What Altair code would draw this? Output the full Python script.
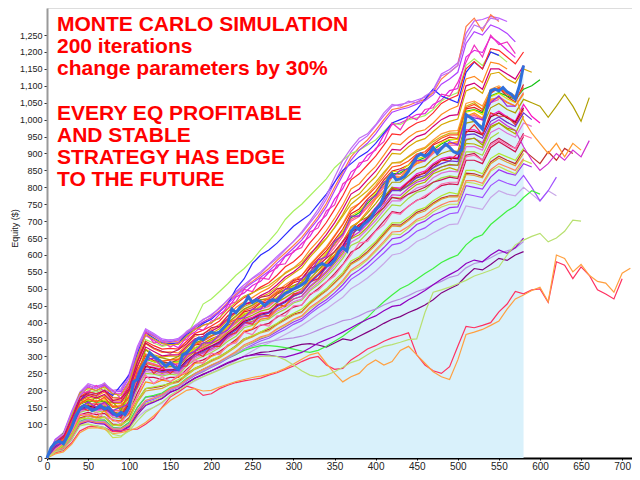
import altair as alt
import pandas as pd

# ---------------- data ----------------
STEP = 10          # sample spacing of every simulated equity curve (trade #)
MAIN_STEP = 5      # sample spacing of the original (blue) equity curve

MAIN = [0, 30, 45, 50, 42, 65, 90, 125, 145, 155,
        150, 140, 145, 155, 145, 150, 135, 125, 135, 128,
        150, 225, 232, 265, 286, 311, 300, 292, 282, 271,
        281, 268, 262, 305, 311, 325, 345, 355, 350, 365,
        372, 368, 372, 385, 398, 440, 430, 445, 455, 477,
        460, 468, 462, 450, 462, 468, 463, 475, 487, 492,
        500, 505, 512, 520, 546, 552, 568, 575, 568, 572,
        585, 610, 622, 612, 670, 683, 675, 690, 700, 712,
        735, 745, 775, 825, 840, 822, 825, 832, 848, 870,
        890, 899, 892, 900, 918, 900, 915, 928, 918, 905,
        900, 912, 1015, 1007, 998, 985, 972, 1030, 1085, 1090,
        1085, 1095, 1082, 1075, 1061, 1100, 1160]

L01 = [0,48,66,128,182,210,198,214,188,190,228,305,362,348,332,338,326,358,372,394,398,425,442,476,488,510,522,548,562,596,608,634,655,694,718,765,796,845,862,895,910,955,985,990,1002,1015,1018,1045,1058,1086,1092,1185,1205,1198,1245,1228,1205,1184]
L02 = [0,38,52,98,162,168,170,165,152,146,184,246,302,288,284,280,292,306,334,338,352,362,392,405,432,438,458,462,484,498,518,526,562,588,612,644,676,722,736,765,788,822,848,855,866,894,898,925,936,948,944,1032,1036,1024,1078,1094,1068,1052,1104]
L03 = [0,30,45,88,140,150,142,150,128,122,150,215,262,258,250,256,248,280,300,312,322,338,358,372,398,404,418,420,440,452,470,478,505,525,548,575,605,648,660,682,712,740,770,768,790,808,815,840,850,858,850,930,928,918,975,990,972,958,1010]
L04 = [0,52,60,118,175,188,182,195,172,170,205,282,338,322,312,314,310,335,360,368,380,395,420,445,462,474,490,502,522,548,562,582,615,642,672,708,748,795,810,838,862,895,930,926,948,964,970,990,1015,1030,1040,1120,1128,1110,1170,1165,1150]
L05 = [0,28,38,80,128,135,128,132,112,110,135,192,238,238,232,238,238,262,282,290,302,315,332,350,372,380,392,398,416,430,446,452,482,500,520,545,572,608,622,646,672,700,728,724,744,762,770,790,805,810,808,880,880,870,918,935,920,905,950]
L06 = [0,20,30,62,108,118,112,112,90,88,104,150,180,182,190,206,212,232,248,262,272,284,298,312,330,340,352,360,374,388,402,412,432,452,468,488,512,540,556,575,598,622,648,652,668,690,700,718,728,740,742,805,800,795,830,852,842,836,870,860]
L07 = [0,55,75,138,195,220,212,220,200,204,250,330,382,368,352,348,354,372,392,408,424,442,468,492,512,532,550,572,596,618,640,664,695,725,765,815,862,905,935,952,982,1012,1040,1045,1050,1058,1066,1088,1135,1148,1168,1255,1292,1296,1305,1300,1290]
L08 = [0,40,48,95,150,162,158,158,140,138,170,238,285,278,270,272,278,300,318,328,340,352,378,398,418,428,440,448,468,482,498,510,540,565,592,622,655,700,714,740,768,800,832,830,848,870,878,900,918,925,925,1005,1012,998,1050,1060]
L09 = [0,46,58,110,168,180,175,184,162,160,195,268,322,305,298,302,300,325,348,356,368,382,408,428,448,458,475,486,505,528,545,562,594,620,648,682,720,765,780,808,832,866,900,898,920,936,944,965,985,995,1002,1085,1095,1078,1135,1140,1120,1108,1150,1140]
L10 = [0,35,44,90,145,155,150,150,132,130,160,225,272,268,262,262,262,290,308,322,332,345,368,385,408,416,428,432,452,465,484,494,522,545,570,598,630,672,688,712,740,770,800,798,818,840,848,870,885,890,888,970,970,958,1012,1025,1008,995,1045,1010,990]
L11 = [0,25,35,72,118,126,120,122,100,98,120,170,205,208,212,222,226,248,265,276,288,300,315,332,352,360,372,380,396,410,425,432,458,478,495,518,542,575,590,610,635,662,690,688,706,726,735,754,768,775,775,842,840,832,875,892,880,870,910,890,870,905,880,915,900]
L12 = [0,18,25,55,100,110,104,102,80,76,88,120,140,150,162,185,196,212,228,240,252,262,274,288,302,316,330,340,352,365,378,392,408,425,440,458,475,500,515,532,552,575,600,605,620,640,650,665,678,690,692,745,740,735,770,790,780,775,800,780,760,790,775]
L13 = [0,50,68,130,188,215,205,218,196,198,240,318,372,360,345,342,346,368,386,402,415,435,460,484,505,522,540,560,584,606,628,652,682,714,752,800,845,890,918,940,968,1000,1030,1035,1042,1052,1060,1080,1120,1140,1160,1275,1300,1262,1310,1290]
L14 = [0,30,42,84,135,142,135,140,120,116,142,205,250,248,242,248,244,272,290,300,312,326,345,360,385,392,405,410,428,440,458,466,494,512,535,560,590,628,640,665,692,720,748,745,768,785,792,815,828,834,830,905,905,895,946,962]
L15 = [0,20,28,58,104,112,106,108,84,80,96,135,160,168,176,195,204,222,236,248,258,268,280,290,300,306,312,314,318,322,330,336,338,334,328,340,352,348,360,372,384,398,410,418,430,440,452,468,488,500,512,538,560,556,572,590,584,600,610]
L16 = [0,42,74,105,158,170,164,168,150,145,178,245,292,285,278,282,285,305,325,335,348,360,385,402,425,432,448,455,472,490,508,518,548,575,602,632,665,710,725,752,778,810,840,842,858,878,888,910,928,940,942,1025,1030,1020,1070,1080,1070,1060,1090,1100,1118]
L17 = [0,36,46,92,148,158,152,154,136,132,165,232,280,274,268,270,270,296,315,326,338,350,372,390,412,422,434,440,460,474,490,500,530,555,580,610,640,684,698,724,752,784,815,815,835,855,862,885,900,908,906,990,995,980,1035,1048,1030,1020,1060,1050,1040,1007,1040,1075,1040,995,1065]
L18 = [0,34,42,85,138,148,142,145,126,122,152,215,262,258,252,256,254,282,300,310,322,336,356,372,396,402,416,420,440,452,470,478,508,528,552,580,612,652,668,692,720,748,778,776,798,815,822,845,860,866,865,942,945,932,985,1000,982,968,920,880,850,870,900,880,910,890,938]
L19 = [0,45,60,120,180,200,195,205,180,178,215,290,350,340,330,335,340,362,405,455,470,492,515,540,560,585,615,640,668,705,730,750,775,800,825,858,880,900,910,925,940,965,990,985,1000,1005,1012,1030,1055,1070,1080,1160,1180,1160,1200,1190,1170]
L20 = [0,40,55,110,170,195,190,200,185,215,245,310,370,355,340,338,340,365,380,398,410,432,455,500,530,575,600,615,635,660,685,703,720,750,780,815,850,870,890,905,930,960,990,1000,1010,1030,1060,1090,1070,1060,1050,1140,1170,1150,1200,1190]
L21 = [0,36,50,96,152,162,160,162,142,140,168,232,282,276,270,276,280,298,320,332,345,358,384,400,420,430,446,452,470,486,502,515,545,572,600,630,662,705,718,745,772,805,835,838,855,875,882,905,920,930,930,1010,1015,1002,1055,1068,1052,1040,1080]
L22 = [0,24,34,70,115,124,118,120,98,95,115,165,198,202,206,218,224,244,262,272,285,296,312,328,348,358,370,376,394,408,422,430,456,475,494,516,540,572,586,606,630,658,686,684,702,722,730,750,765,772,772,838,835,828,870,886,874,864,900]
L23 = [0,50,62,122,180,196,190,200,178,176,212,292,345,332,322,324,322,345,368,378,390,405,432,455,474,488,505,518,540,565,580,602,636,664,696,735,775,822,840,866,892,925,958,955,975,990,998,1020,1048,1062,1072,1150,1172,1150,1210,1205,1185,1165,1200]
L24 = [0,32,40,86,138,146,140,142,122,118,148,210,256,252,246,252,250,275,295,305,318,330,352,368,390,398,410,414,434,446,462,470,498,518,542,568,598,638,652,676,702,732,760,760,780,798,805,828,842,848,846,920,920,910,962,975,960,948,990,980]
L25 = [0,40,56,104,160,172,166,172,150,148,178,245,295,285,278,280,284,305,326,336,350,362,388,405,426,434,450,458,476,492,508,520,552,578,606,638,670,715,730,756,784,815,846,848,866,884,892,915,932,942,942,1022,1028,1015,1068,1078,1062,1050]
L26 = [0,22,30,60,100,100,92,88,60,62,85,125,160,168,180,200,210,228,245,255,268,280,296,312,330,342,355,362,380,392,408,418,440,458,476,498,520,552,566,586,610,635,662,660,680,700,708,728,742,750,750,815,812,805,848,862,850,840,880,870]
L27 = [0,54,72,132,190,214,206,216,196,196,238,320,376,362,348,344,350,368,388,402,414,432,456,480,500,518,534,552,576,598,620,644,676,706,742,790,836,880,910,930,958,992,1022,1030,1036,1046,1056,1074,1105,1120,1140,1225,1260,1250,1280,1270,1255,1230]
L28 = [0,34,44,90,144,154,148,150,130,126,158,222,270,266,258,260,262,288,306,318,330,342,365,382,404,412,425,430,450,462,480,490,518,542,566,594,625,668,682,708,735,766,796,794,815,835,842,865,880,886,884,965,965,955,1008,1020,1005,992,1035]
L29 = [0,20,28,60,104,112,108,106,86,82,98,138,166,174,184,200,210,228,244,256,268,280,294,306,322,334,346,354,368,380,395,406,426,444,460,480,500,528,544,562,584,606,630,635,650,670,680,698,710,722,725,780,775,770,805,822,812,805,835,800,760,790,830]
L30 = [0,22,32,64,108,116,110,112,90,88,106,150,180,185,192,208,216,236,250,262,274,284,296,306,318,326,332,332,330,326,322,316,312,318,330,345,360,378,395,415,440,462,482,500,512,528,545,560,578,590,600,630,650,660,690,710,730,745,770,790,780]
L31 = [0,44,56,105,164,175,168,176,156,152,186,255,308,296,288,290,294,316,338,348,360,375,398,418,440,450,466,474,494,512,528,540,572,598,625,658,692,738,752,780,806,840,872,872,892,910,918,940,958,966,968,1048,1055,1040,1090,1100,1085,1070,1000,960,930,900,930,890,930,910]
L32 = [0,20,30,62,106,114,108,108,88,84,100,142,170,176,186,202,210,230,246,258,270,282,296,308,322,330,338,344,348,352,355,360,368,378,388,396,406,410,420,432,440,452,462,470,480,492,500,512,522,534,540,562,575,580,592,605,612,620,640]
L33 = [0,18,26,56,100,108,102,100,80,78,92,128,155,165,176,194,204,220,236,246,258,270,282,292,300,304,306,304,300,298,305,312,325,340,350,360,372,385,398,410,420,435,448,452,468,480,495,512,528,542,555,575,585,580,600,615,605,622,650]
N01 = [0,44,70,112,190,196,214,196,200,176,222,290,372,340,346,328,342,350,384,378,405,412,452,462,498,492,532,528,570,574,612,622,668,680,730,748,810,828,872,880,915,935,990,970,1010,1000,1030,1035,1075,1070,1110,1170,1220,1185,1250,1222,1230,1195]
N02 = [0,30,50,90,150,140,160,140,140,118,170,210,280,250,268,250,270,272,312,300,330,330,362,370,402,395,425,420,455,448,485,488,520,530,565,585,620,650,690,700,730,755,795,790,815,830,845,858,880,878,900,960,985,955,1020,1010,1010,985,1030]
N03 = [0,40,62,100,172,160,180,165,165,140,200,240,320,300,296,290,300,318,340,350,362,372,400,420,440,452,468,470,488,498,510,520,548,556,580,600,640,672,700,712,735,770,800,790,805,820,830,850,860,868,865,940,945,925,980,990,975,968]
N04 = [0,26,40,76,125,130,120,140,110,110,130,180,225,220,230,226,240,252,280,282,300,310,330,345,375,382,410,414,440,452,478,490,525,545,575,600,640,680,700,730,765,790,830,830,855,870,880,905,915,930,935,1010,1020,1005,1060,1065,1050,1040,1075]
N05 = [0,46,66,118,180,190,185,200,170,175,205,285,340,325,315,310,320,338,365,365,385,390,420,430,455,460,475,480,500,505,525,530,560,570,590,610,640,670,690,700,720,740,770,765,780,790,800,815,822,830,826,895,900,880,930,945,930,915,960]
N06 = [0,38,46,100,150,165,150,165,140,150,160,250,290,295,270,285,270,305,315,340,340,365,378,410,415,440,440,468,470,500,500,530,548,585,595,640,660,715,715,760,775,815,830,850,855,880,878,910,912,935,925,1010,1005,1000,1050,1070,1040,1040]
N07 = [0,50,72,125,192,205,200,210,190,185,225,300,365,352,338,335,336,360,380,392,400,415,440,460,478,488,500,510,528,545,560,575,605,625,650,680,715,750,770,790,815,845,872,875,890,905,915,935,950,960,960,1040,1050,1030,1085,1095,1080,1065]
N08 = [0,25,45,78,130,125,135,120,115,100,140,180,245,220,240,225,245,255,290,280,310,305,335,340,372,365,395,390,420,420,450,452,485,495,520,538,570,600,635,640,670,690,725,720,745,760,775,790,810,815,815,890,895,880,925,940,925,915,955,945]
N09 = [0,52,70,135,185,215,205,222,195,200,240,320,378,365,345,350,348,375,390,410,420,445,465,490,505,530,545,570,590,615,640,668,700,735,775,830,880,915,945,958,985,1020,1045,1040,1055,1050,1070,1085,1130,1140,1160,1240,1280,1270,1300,1295]
N10 = [0,42,55,105,160,175,165,180,150,155,180,260,305,300,285,290,290,315,335,345,360,370,398,410,435,445,460,470,490,505,520,540,568,595,620,655,690,730,752,775,800,830,860,865,878,898,905,928,945,955,955,1035,1045,1030,1080,1095,1075,1060,1095]
N11 = [0,20,38,68,115,118,112,122,95,100,112,170,205,210,215,220,232,245,265,275,290,300,315,330,352,362,372,385,398,415,428,440,462,482,500,525,548,582,595,618,640,668,695,695,712,732,740,760,775,785,780,850,850,840,885,900,890,880,915]
N12 = [0,45,60,115,170,185,178,188,165,165,200,272,328,315,302,305,305,330,352,360,375,388,412,432,452,465,480,492,512,535,550,570,600,630,660,695,735,780,795,822,848,880,912,910,932,950,958,980,1000,1012,1015,1100,1108,1090,1150,1150,1135,1120,1160]
N13 = [0,20,30,62,104,110,105,105,85,86,98,140,170,178,188,205,214,232,250,262,275,286,300,315,335,345,358,365,382,395,410,420,445,462,480,500,525,556,572,590,615,640,668,670,685,705,715,735,748,758,760,820,820,812,852,870,860,850,885]
N14 = [0,32,48,88,142,150,145,150,128,125,150,220,262,262,255,260,258,285,305,315,328,340,362,378,400,410,422,428,448,460,478,488,518,540,562,590,622,662,678,700,728,760,790,790,808,828,835,858,870,878,876,955,958,945,995,1008,992,980,1020,1000]
LOW_RED = [0,15,22,45,80,92,95,90,78,80,85,85,100,118,150,180,195,212,205,185,190,205,215,223,228,232,236,245,252,262,272,285,295,300,275,262,265,290,305,322,332,345,355,362,370,305,275,258,250,270,330,389,385,392,400,432,455,492,485,497,500,460,580,570,530,565,540,497,485,470,530]
LOW_ORANGE = [0,12,18,40,75,88,90,85,72,75,80,90,105,125,148,170,185,200,205,198,200,210,218,226,232,238,242,248,255,265,278,292,305,311,280,250,225,240,250,275,290,275,285,318,330,305,280,255,240,232,290,365,372,380,392,405,440,470,482,495,505,462,600,590,550,572,540,522,517,490,546,561]
LOW_GREEN = [0,18,25,55,95,100,95,90,70,65,80,110,135,150,165,185,200,215,230,240,250,260,272,282,290,296,300,302,300,290,275,258,245,240,245,255,268,282,290,305,320,330,335,342,350,352,430,490,497,505,515,525,538,546,555,565,600,630,644,655,664,639,650,670,703,700]

SERIES = [
    ("s01", "#e020e0", L01), ("s02", "#e02020", L02), ("s03", "#b8b000", L03),
    ("s04", "#ff8a20", L04), ("s05", "#d0104a", L05), ("s06", "#a030f0", L06),
    ("s07", "#c060ff", L07), ("s08", "#ff5a9a", L08), ("s09", "#d8a800", L09),
    ("s10", "#ff10c0", L10), ("s11", "#c03030", L11), ("s12", "#c8a8e8", L12),
    ("s13", "#ff7a48", L13), ("s14", "#a8d840", L14), ("s15", "#800080", L15),
    ("s16", "#10c010", L16), ("s17", "#b0a000", L17), ("s18", "#d030d0", L18),
    ("s19", "#a8f060", L19), ("s20", "#2828ff", L20), ("s21", "#ff6868", L21),
    ("s22", "#e0a030", L22), ("s23", "#ff2a2a", L23), ("s24", "#e070d8", L24),
    ("s25", "#e0e000", L25), ("s26", "#c8e050", L26), ("s27", "#b040ff", L27),
    ("s28", "#a00028", L28), ("s29", "#a050ff", L29), ("s30", "#40f040", L30),
    ("s31", "#ff9a30", L31), ("s32", "#b890e0", L32), ("s33", "#9000c0", L33),
    ("s34", "#f030c0", N01), ("s35", "#e83030", N02), ("s36", "#a0a000", N03),
    ("s37", "#ff9010", N04), ("s38", "#c81850", N05), ("s39", "#9c28e0", N06),
    ("s40", "#d0b010", N07), ("s41", "#ff70b0", N08), ("s42", "#c070f0", N09),
    ("s43", "#ff5020", N10), ("s44", "#b0e830", N11), ("s45", "#d0007a", N12),
    ("s46", "#ff8060", N13), ("s47", "#7030d0", N14),
    ("s48", "#ff3060", LOW_RED), ("s49", "#ffa040", LOW_ORANGE), ("s50", "#b8e070", LOW_GREEN),
]

Y_TICKS = [0, 100, 150, 200, 250, 300, 350, 400, 450, 500, 550, 600, 650, 700, 750,
           800, 850, 900, 950, 1000, 1050, 1100, 1150, 1200, 1250]
X_TICKS = [0, 50, 100, 150, 200, 250, 300, 350, 400, 450, 500, 550, 600, 650, 700]

TEXT_TOP = ["MONTE CARLO SIMULATION", "200 iterations", "change parameters by 30%"]
TEXT_BOTTOM = ["EVERY EQ PROFITABLE", "AND STABLE", "STRATEGY HAS EDGE", "TO THE FUTURE"]

# ---------------- tables ----------------
rows = []
for name, _, vals in SERIES:
    for i, v in enumerate(vals):
        rows.append({"s": name, "x": i * STEP, "y": v})
sims = pd.DataFrame(rows)
main = pd.DataFrame({"x": [i * MAIN_STEP for i in range(len(MAIN))], "y": MAIN})

xs = alt.Scale(domain=[0, 712], nice=False, zero=False)
ys = alt.Scale(domain=[0, 1330], nice=False)

x_axis = alt.Axis(values=X_TICKS, title=None, grid=False, labelFontSize=10,
                  labelFont="Liberation Sans", labelColor="#222", domainColor="#000",
                  domainWidth=2, tickSize=2, tickColor="#000", labelPadding=1,
                  labelFlush=False)
y_axis = alt.Axis(values=Y_TICKS, grid=False, labelFontSize=9,
                  labelExpr="datum.value >= 1000 ? '1,' + substring(toString(datum.value), 1) : toString(datum.value)",
                  labelFont="Liberation Sans", labelColor="#222", domainColor="#999",
                  domainWidth=2, tickSize=3, tickColor="#333", labelPadding=2,
                  title="Equity ($)", titleFontSize=9, titleFontWeight="normal",
                  titleFont="Liberation Sans", titleColor="#222",
                  titleX=-28, titleY=220)

X = alt.X("x:Q", scale=xs, axis=x_axis)
Y = alt.Y("y:Q", scale=ys, axis=y_axis)

area = alt.Chart(main).mark_area(color="#d9f1fb", opacity=1).encode(x=X, y=Y)

lines = alt.Chart(sims).mark_line(strokeWidth=1.2, interpolate="linear").encode(
    x=X, y=Y,
    color=alt.Color("s:N", legend=None,
                    scale=alt.Scale(domain=[s[0] for s in SERIES],
                                    range=[s[1] for s in SERIES])),
)

main_line = alt.Chart(main).mark_line(color="#2f6fdc", strokeWidth=3).encode(x=X, y=Y)

text_style = dict(align="left", baseline="alphabetic", font="Liberation Sans",
                  fontWeight="bold", fontSize=21, lineHeight=22, color="#ff0000")
label_top = alt.Chart(pd.DataFrame({"k": [0]})).mark_text(
    text=TEXT_TOP, **text_style).encode(x=alt.value(10), y=alt.value(22.5))
label_bottom = alt.Chart(pd.DataFrame({"k": [0]})).mark_text(
    text=TEXT_BOTTOM, **text_style).encode(x=alt.value(10), y=alt.value(111.5))

chart = alt.layer(area, lines, main_line, label_top, label_bottom).properties(
    width=585, height=450,
    autosize=alt.AutoSizeParams(type="none"),
    padding={"left": 39, "top": 0, "right": 0, "bottom": 12},
).configure_view(strokeWidth=0).configure(background="white")

chart.save("out.html", embed_options={"renderer": "svg", "actions": False})
